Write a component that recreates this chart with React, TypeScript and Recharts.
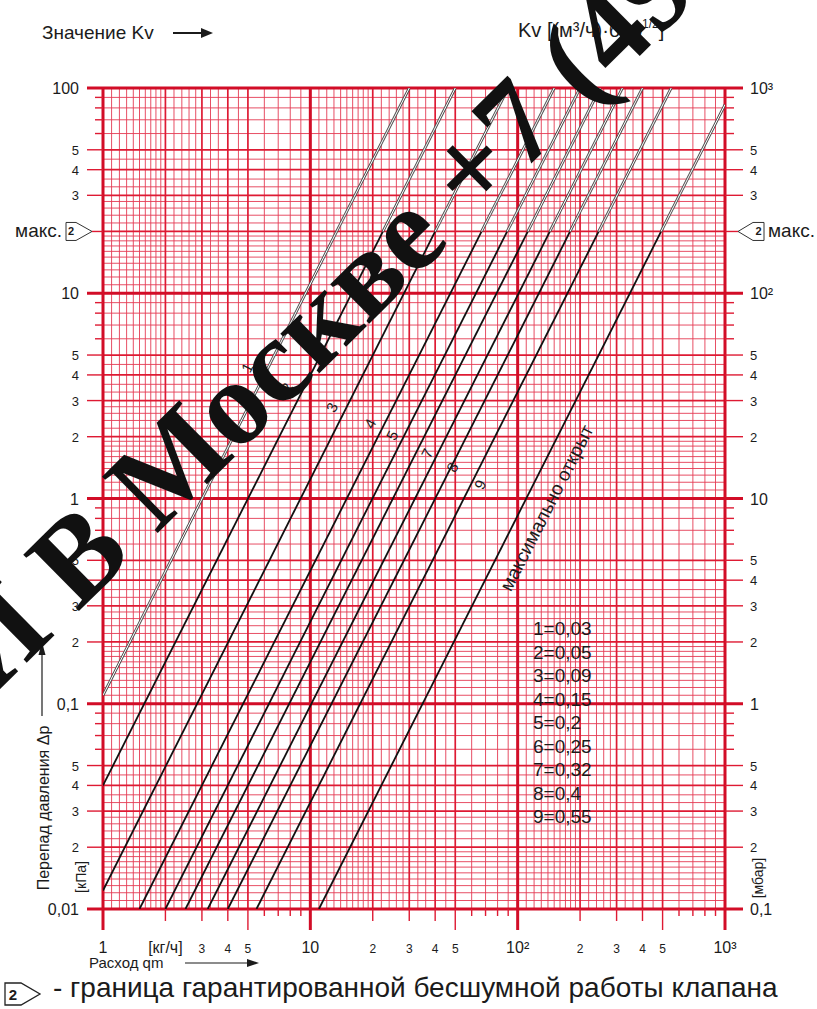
import React from 'react';
import { ComposedChart, Line, XAxis, YAxis, CartesianGrid, ReferenceDot } from 'recharts';

const W = 817;
const H = 1009;
const SANS = '"Liberation Sans", Arial, Helvetica, sans-serif';
const SERIF = '"Liberation Serif", "DejaVu Serif", serif';

// ---------- axis ticks ----------
const flowTicks = [1, 2, 3, 4, 5, 6, 7, 8, 9, 10, 20, 30, 40, 50, 60, 70, 80, 90, 100, 200, 300, 400, 500, 600, 700, 800, 900, 1000];
const flowTickLabels = ['1', '[кг/ч]', '3', '4', '5', '', '', '', '', '10', '2', '3', '4', '5', '', '', '', '', '10²', '2', '3', '4', '5', '', '', '', '', '10³'];

const kvTicks = [0.001, 0.002, 0.003, 0.004, 0.005, 0.006, 0.007, 0.008, 0.009, 0.01, 0.02, 0.03, 0.04, 0.05, 0.06, 0.07, 0.08, 0.09, 0.1, 0.2, 0.3, 0.4, 0.5, 0.6, 0.7, 0.8, 0.9, 1];
const kvTickLabels = ['0,001', '2', '3', '4', '5', '', '', '', '', '0,01', '2', '3', '4', '5', '', '', '', '', '0,1', '2', '3', '4', '5', '', '', '', '', '1'];

const dpTicks = [0.01, 0.02, 0.03, 0.04, 0.05, 0.06, 0.07, 0.08, 0.09, 0.1, 0.2, 0.3, 0.4, 0.5, 0.6, 0.7, 0.8, 0.9, 1, 2, 3, 4, 5, 6, 7, 8, 9, 10, 20, 30, 40, 50, 60, 70, 80, 90, 100];
const dpTickLabels = ['0,01', '2', '3', '4', '5', '', '', '', '', '0,1', '2', '3', '4', '5', '', '', '', '', '1', '2', '3', '4', '5', '', '', '', '', '10', 'макс.', '3', '4', '5', '', '', '', '', '100'];

const mbarTicks = [0.1, 0.2, 0.3, 0.4, 0.5, 0.6, 0.7, 0.8, 0.9, 1, 2, 3, 4, 5, 6, 7, 8, 9, 10, 20, 30, 40, 50, 60, 70, 80, 90, 100, 200, 300, 400, 500, 600, 700, 800, 900, 1000];
const mbarTickLabels = ['0,1', '2', '3', '4', '5', '', '', '', '', '1', '2', '3', '4', '5', '', '', '', '', '10', '2', '3', '4', '5', '', '', '', '', '10²', 'макс.', '3', '4', '5', '', '', '', '', '10³'];

// ---------- grid (log paper) ----------
const gridMinorMantissas = [1.1, 1.2, 1.3, 1.4, 1.5, 1.6, 1.7, 1.8, 1.9, 2.2, 2.4, 2.6, 2.8, 3.3, 3.6, 4.5, 6, 7, 8, 9];
const gridMidMantissas = [2, 3, 4, 5];
const flowDecades = [1, 10, 100];
const dpDecades = [0.01, 0.1, 1, 10];
const flowMajor = [1, 10, 100, 1000];
const dpMajor = [0.01, 0.1, 1, 10, 100];

const spread = (decades: number[], mant: number[]) => {
  const out: number[] = [];
  decades.forEach((d) => mant.forEach((k) => out.push(+(d * k).toPrecision(6))));
  return out;
};
const flowMinor = spread(flowDecades, gridMinorMantissas);
const flowMid = spread(flowDecades, gridMidMantissas);
const dpMinor = spread(dpDecades, gridMinorMantissas);
const dpMid = spread(dpDecades, gridMidMantissas);

// ---------- characteristics ----------
const curveNames = ['1', '2', '3', '4', '5', '6', '7', '8', '9', 'макс'];
const curveKvLegend = ['0,03', '0,05', '0,09', '0,15', '0,2', '0,25', '0,32', '0,4', '0,55'];
const curveStartM = [1, 1, 1, 1.5, 2, 2.5, 3.2, 4, 5.5, 11];
const curveStartDp = [0.11, 0.04, 0.0123, 0.01, 0.01, 0.01, 0.01, 0.01, 0.01, 0.01];
const curveLimitM = [13.4, 22.4, 40, 67, 89, 112, 143, 179, 246, 492];
const limitDp = 20;
const curveEndM = [30, 50, 90, 150, 200, 250, 320, 400, 550, 1000];
const curveEndDp = [100, 100, 100, 100, 100, 100, 100, 100, 100, 83];

// labels written along the characteristics (m, Δp)
const curveLabelText = ['1', '2', '3', '4', '5', '7', '8', '9'];
const curveLabelM = [4.95, 7.7, 12.7, 19.4, 24.8, 36.5, 48.3, 65.9];
const curveLabelDp = [4.35, 3.47, 2.78, 2.32, 2.03, 1.66, 1.42, 1.17];
const maxLabelText = 'максимально открыт';
const maxLabelM = 138;
const maxLabelDp = 0.9;

// ---------- styling ----------
const RED_MAJOR = '#d20d27';
const RED_MID = '#de1a33';
const RED_MINOR = '#e43b53';
const INK = '#1b1b1b';

const isDecade = (v: number) => {
  const l = Math.log10(v);
  return Math.abs(l - Math.round(l)) < 1e-6;
};
const isFive = (v: number) => {
  const l = Math.log10(v / 5);
  return Math.abs(l - Math.round(l)) < 1e-6;
};

const LeftMarker = ({ ax, y }: { ax: number; y: number }) => (
  <g>
    <polygon
      points={`${ax - 26},${y - 9} ${ax - 16},${y - 9} ${ax},${y} ${ax - 16},${y + 9} ${ax - 26},${y + 9}`}
      fill="#fff"
      stroke="#333"
      strokeWidth={1}
    />
    <text x={ax - 21} y={y + 4} textAnchor="middle" fontSize={11} fontWeight="bold" fontFamily={SANS} fill={INK}>2</text>
  </g>
);

const RightMarker = ({ ax, y }: { ax: number; y: number }) => (
  <g>
    <polygon
      points={`${ax},${y} ${ax + 15},${y - 9} ${ax + 26},${y - 9} ${ax + 26},${y + 9} ${ax + 15},${y + 9}`}
      fill="#fff"
      stroke="#333"
      strokeWidth={1}
    />
    <text x={ax + 20.5} y={y + 4} textAnchor="middle" fontSize={11} fontWeight="bold" fontFamily={SANS} fill={INK}>2</text>
  </g>
);

const LeftTick = (props: any) => {
  const { x, y, payload } = props;
  const v = payload.value;
  const label = dpTickLabels[dpTicks.indexOf(v)] ?? '';
  if (label === 'макс.') {
    return (
      <g>
        <line x1={x - 11} x2={x} y1={y} y2={y} stroke={RED_MID} strokeWidth={1.4} />
        <LeftMarker ax={x - 11} y={y} />
        <text x={x - 41} y={y + 6} textAnchor="end" fontSize={19} fontFamily={SANS} fill={INK}>макс.</text>
      </g>
    );
  }
  const len = label ? 16 : 8;
  const dec = isDecade(v);
  return (
    <g>
      <line x1={x - len} x2={x} y1={y} y2={y} stroke={dec ? RED_MAJOR : RED_MID} strokeWidth={dec ? 3 : 1.4} />
      {label ? (
        <text x={x - 24} y={y + (dec ? 6 : 5)} textAnchor="end" fontSize={dec ? 16 : 13} fontFamily={SANS} fill={INK}>
          {label}
        </text>
      ) : null}
    </g>
  );
};

const RightTick = (props: any) => {
  const { x, y, payload } = props;
  const v = payload.value;
  const label = mbarTickLabels[mbarTicks.indexOf(v)] ?? '';
  if (label === 'макс.') {
    return (
      <g>
        <line x1={x} x2={x + 13} y1={y} y2={y} stroke={RED_MID} strokeWidth={1.4} />
        <RightMarker ax={x + 13} y={y} />
        <text x={x + 43} y={y + 6} textAnchor="start" fontSize={19} fontFamily={SANS} fill={INK}>макс.</text>
      </g>
    );
  }
  const len = label ? 18 : 9;
  const dec = isDecade(v);
  return (
    <g>
      <line x1={x} x2={x + len} y1={y} y2={y} stroke={dec ? RED_MAJOR : RED_MID} strokeWidth={dec ? 3 : 1.4} />
      {label ? (
        <text x={x + 25} y={y + (dec ? 6 : 5)} textAnchor="start" fontSize={dec ? 16 : 13} fontFamily={SANS} fill={INK}>
          {label}
        </text>
      ) : null}
    </g>
  );
};

const TopTick = (props: any) => {
  const { x, y, payload } = props;
  const v = payload.value;
  const label = kvTickLabels[kvTicks.indexOf(v)] ?? '';
  const dec = isDecade(v);
  const len = dec || isFive(v) ? 20 : label ? 11 : 8;
  return (
    <g>
      <line x1={x} x2={x} y1={y - len} y2={y} stroke={dec ? RED_MAJOR : RED_MID} strokeWidth={dec ? 3 : 1.4} />
      {label ? (
        <text x={x} y={y - 26} textAnchor="middle" fontSize={dec ? 16 : 12} fontFamily={SANS} fill={INK}>
          {label}
        </text>
      ) : null}
    </g>
  );
};

const BottomTick = (props: any) => {
  const { x, y, payload } = props;
  const v = payload.value;
  const label = flowTickLabels[flowTicks.indexOf(v)] ?? '';
  const dec = isDecade(v);
  const len = dec || isFive(v) ? 21 : label ? 12 : 7;
  const big = dec || label.startsWith('[');
  return (
    <g>
      <line x1={x} x2={x} y1={y} y2={y + len} stroke={dec ? RED_MAJOR : RED_MID} strokeWidth={dec ? 3 : 1.4} />
      {label ? (
        <text x={x} y={y + 44} textAnchor="middle" fontSize={big ? 16 : 12} fontFamily={SANS} fill={INK}>
          {label}
        </text>
      ) : null}
    </g>
  );
};

const seg = (m1: number, d1: number, m2: number, d2: number) => [
  { m: m1, dp: d1 },
  { m: m2, dp: d2 },
];

const hollow = (key: string, data: any[]) => [
  <Line key={key + 'o'} data={data} dataKey="dp" type="linear" stroke="#505050" strokeWidth={2.8} dot={false} activeDot={false} isAnimationActive={false} legendType="none" />,
  <Line key={key + 'i'} data={data} dataKey="dp" type="linear" stroke="#ffffff" strokeWidth={1.0} dot={false} activeDot={false} isAnimationActive={false} legendType="none" />,
];

const solid = (key: string, data: any[]) => (
  <Line key={key} data={data} dataKey="dp" type="linear" stroke="#111" strokeWidth={1.8} dot={false} activeDot={false} isAnimationActive={false} legendType="none" />
);

export default function App() {
  const series: any[] = [];
  curveNames.forEach((name, i) => {
    const lower = seg(curveStartM[i], curveStartDp[i], curveLimitM[i], limitDp);
    const upper = seg(curveLimitM[i], limitDp, curveEndM[i], curveEndDp[i]);
    if (name === '1') series.push(...hollow('l' + i, lower));
    else series.push(solid('l' + i, lower));
    series.push(...hollow('u' + i, upper));
  });

  return (
    <div style={{ position: 'absolute', left: 0, top: 0, width: W, height: H, background: '#fff', overflow: 'hidden' }}>
      <ComposedChart width={W} height={H} margin={{ top: 58, right: 32, bottom: 70, left: 43 }}>
        <CartesianGrid verticalValues={flowMinor} horizontalValues={dpMinor} stroke={RED_MINOR} strokeWidth={0.9} />
        <CartesianGrid verticalValues={flowMid} horizontalValues={dpMid} stroke={RED_MID} strokeWidth={1.7} />
        <CartesianGrid verticalValues={flowMajor} horizontalValues={dpMajor} stroke={RED_MAJOR} strokeWidth={3} />
        <XAxis
          dataKey="m"
          type="number"
          scale="log"
          domain={[1, 1000]}
          allowDataOverflow
          ticks={flowTicks}
          interval={0}
          tick={BottomTick}
          tickLine={false}
          axisLine={false}
          tickSize={0}
          tickMargin={0}
          height={30}
        />
        <XAxis
          xAxisId="kv"
          orientation="top"
          type="number"
          scale="log"
          domain={[0.001, 1]}
          allowDataOverflow
          ticks={kvTicks}
          interval={0}
          tick={TopTick}
          tickLine={false}
          axisLine={false}
          tickSize={0}
          tickMargin={0}
          height={30}
        />
        <YAxis
          type="number"
          scale="log"
          domain={[0.01, 100]}
          allowDataOverflow
          ticks={dpTicks}
          interval={0}
          tick={LeftTick}
          tickLine={false}
          axisLine={false}
          tickSize={0}
          tickMargin={0}
          width={60}
        />
        <YAxis
          yAxisId="mbar"
          orientation="right"
          type="number"
          scale="log"
          domain={[0.1, 1000]}
          allowDataOverflow
          ticks={mbarTicks}
          interval={0}
          tick={RightTick}
          tickLine={false}
          axisLine={false}
          tickSize={0}
          tickMargin={0}
          width={60}
        />
        {series}
        {curveLabelText.map((t, i) => (
          <ReferenceDot
            key={'lab' + i}
            x={curveLabelM[i]}
            y={curveLabelDp[i]}
            r={0}
            ifOverflow="visible"
            shape={(p: any) => (
              <text
                transform={`translate(${p.cx},${p.cy}) rotate(-63)`}
                textAnchor="middle"
                dominantBaseline="central"
                fontSize={15}
                fontFamily={SANS}
                fill={INK}
              >
                {t}
              </text>
            )}
          />
        ))}
        <ReferenceDot
          x={maxLabelM}
          y={maxLabelDp}
          r={0}
          ifOverflow="visible"
          shape={(p: any) => (
            <text
              transform={`translate(${p.cx},${p.cy}) rotate(-63)`}
              textAnchor="middle"
              dominantBaseline="central"
              fontSize={19}
              fontFamily={SANS}
              fill={INK}
            >
              {maxLabelText}
            </text>
          )}
        />
      </ComposedChart>

      <svg width={W} height={H} style={{ position: 'absolute', left: 0, top: 0, pointerEvents: 'none' }}>
        {/* top titles */}
        <text x={42} y={39} fontSize={19} fontFamily={SANS} fill={INK}>Значение Kv</text>
        <line x1={173} x2={204} y1={33} y2={33} stroke={INK} strokeWidth={2} />
        <polygon points="213,33 201,28 201,38" fill={INK} />
        <text x={518} y={37} fontSize={20} fontFamily={SANS} fill={INK}>
          Kv [(м³/ч)·бар
          <tspan fontSize={12} dy={-9}>1/2</tspan>
          <tspan dy={9}>]</tspan>
        </text>

        {/* legend of Kv values */}
        {curveKvLegend.map((kv, i) => (
          <text key={'lg' + i} x={533} y={635 + i * 23.5} fontSize={19} fontFamily={SANS} fill={INK}>
            {curveNames[i] + '=' + kv}
          </text>
        ))}

        {/* left axis title */}
        <text transform="translate(49,808) rotate(-90)" textAnchor="middle" fontSize={16} fontFamily={SANS} fill={INK}>
          Перепад давления Δp
        </text>
        <line x1={42} x2={42} y1={716} y2={652} stroke={INK} strokeWidth={1.2} />
        <polygon points="42,642 38.5,655 45.5,655" fill={INK} />
        <text transform="translate(86,877) rotate(-90)" textAnchor="middle" fontSize={14} fontFamily={SANS} fill={INK}>
          [кПа]
        </text>
        <text transform="translate(763,878) rotate(-90)" textAnchor="middle" fontSize={14} fontFamily={SANS} fill={INK}>
          [мбар]
        </text>

        {/* bottom axis title */}
        <text x={89} y={968} fontSize={15} fontFamily={SANS} fill={INK}>Расход qm</text>
        <line x1={185} x2={250} y1={963} y2={963} stroke={INK} strokeWidth={1.2} />
        <polygon points="259,963 247,959 247,967" fill={INK} />

        {/* footer */}
        <polygon points="5,983 21,983 40,994 21,1005 5,1005" fill="#fff" stroke="#222" strokeWidth={1.3} />
        <text x={13} y={1000} textAnchor="middle" fontSize={15} fontWeight="bold" fontFamily={SANS} fill={INK}>2</text>
        <text x={53} y={997} fontSize={28} fontFamily={SANS} fill={INK}>
          - граница гарантированной бесшумной работы клапана
        </text>

        {/* watermark */}
        <text
          transform="translate(-11,700) rotate(-44.7)"
          fontSize={121}
          fontWeight="bold"
          fontFamily={SERIF}
          fill="#111"
        >
          И В Москве +7 (49
        </text>
      </svg>
    </div>
  );
}
